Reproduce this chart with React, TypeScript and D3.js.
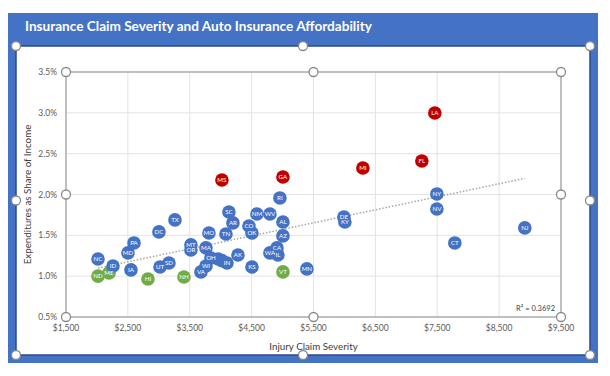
import React from "react";
import * as d3 from "d3";

const states = ["NC","ND","ME","ID","IA","MD","PA","DC","TX","HI","UT","SD","NH","MT","OR","MA","MO","TN","OH","WI","VA","IN","NE","WY","SC","MS","GA","RI","NM","WV","AR","AL","CO","OK","AZ","CA","WA","IL","AK","KS","VT","MN","LA","FL","MI","NY","NV","DE","KY","CT","NJ"];
const severity = [2017,2017,2195,2259,2550,2502,2599,3002,3261,2825,3019,3164,3406,3519,3519,3762,3810,4085,3843,3762,3681,4101,3960,4020,4133,4020,5006,4957,4586,4796,4198,5006,4456,4505,5006,4909,4796,4925,4279,4505,5006,5393,7461,7251,6298,7494,7494,5991,6007,7784,8915];
const share = [1.21,1.00,1.04,1.125,1.077,1.285,1.407,1.542,1.689,0.966,1.113,1.162,0.99,1.383,1.321,1.346,1.529,1.517,1.223,1.125,1.052,1.162,1.21,1.19,1.786,2.178,2.215,1.958,1.762,1.762,1.652,1.664,1.615,1.529,1.493,1.346,1.285,1.26,1.26,1.113,1.052,1.089,2.998,2.411,2.325,2.007,1.823,1.725,1.664,1.407,1.591];
const group = ["b","g","g","b","b","b","b","b","b","g","b","b","g","b","b","b","b","b","b","b","b","b","b","b","b","r","r","b","b","b","b","b","b","b","b","b","b","b","b","b","g","b","r","r","r","b","b","b","b","b","b"];
const xTicks = [1500,2500,3500,4500,5500,6500,7500,8500,9500];
const yTicks = [0.5,1.0,1.5,2.0,2.5,3.0,3.5];
const title = "Insurance Claim Severity and Auto Insurance Affordability";
const xTitle = "Injury Claim Severity";
const yTitle = "Expenditures as Share of Income";
const r2Label = "R² = 0.3692";

const colors: Record<string,string> = { b: "#4472C4", r: "#C00000", g: "#70AD47" };
const FONT = "Lato, 'Open Sans', sans-serif";

export default function App() {
  const W = 610, H = 376;
  const pl = 66, pr = 561, pt = 72, pb = 317;
  const x = d3.scaleLinear().domain([1500, 9500]).range([pl, pr]);
  const y = d3.scaleLinear().domain([0.5, 3.5]).range([pb, pt]);

  // linear regression
  const n = severity.length;
  const mx = d3.mean(severity)!;
  const my = d3.mean(share)!;
  let sxy = 0, sxx = 0;
  for (let i = 0; i < n; i++) { sxy += (severity[i]-mx)*(share[i]-my); sxx += (severity[i]-mx)**2; }
  const slope = sxy / sxx;
  const icpt = my - slope * mx;
  const x0 = d3.min(severity)!, x1 = d3.max(severity)!;
  const trend = d3.line<number>().x(v => x(v)).y(v => y(icpt + slope * v))([x0, x1]);

  const fmtX = (v: number) => "$" + d3.format(",")(v);
  const fmtY = (v: number) => v.toFixed(1) + "%";

  const handle = (cx: number, cy: number, k: string) => (
    <circle key={k} cx={cx} cy={cy} r={4.5} fill="#fff" stroke="#8a8a8a" strokeWidth={1.3} />
  );

  const cxA = 16, cyA = 46, cxB = 590, cyB = 355;

  return (
    <svg width={W} height={H} style={{ position: "absolute", left: 0, top: 0 }} fontFamily={FONT}>
      <rect x={0} y={0} width={W} height={H} fill="#fff" />
      <rect x={8} y={13} width={590} height={350} fill="#4472C4" />
      <text x={25} y={31} fill="#fff" fontWeight="bold" fontSize={13.6}>{title}</text>
      <rect x={cxA} y={cyA} width={cxB - cxA} height={cyB - cyA} fill="#fff" stroke="#2a4a8a" strokeWidth={1.5} />

      {/* gridlines */}
      {xTicks.map(t => <line key={"gx"+t} x1={x(t)} x2={x(t)} y1={pt} y2={pb} stroke="#e3e3e3" strokeWidth={1} />)}
      {yTicks.map(t => <line key={"gy"+t} x1={pl} x2={pr} y1={y(t)} y2={y(t)} stroke="#e3e3e3" strokeWidth={1} />)}

      {/* plot area frame */}
      <rect x={pl} y={pt} width={pr - pl} height={pb - pt} fill="none" stroke="#a6a6a6" strokeWidth={1.3} />

      {/* tick labels */}
      {xTicks.map(t => <text key={"tx"+t} x={x(t)} y={pb + 14} textAnchor="middle" fontSize={8.5} fill="#595959">{fmtX(t)}</text>)}
      {yTicks.map(t => <text key={"ty"+t} x={pl - 9} y={y(t) + 3} textAnchor="end" fontSize={8.5} fill="#595959">{fmtY(t)}</text>)}

      <text x={(pl + pr) / 2} y={350} textAnchor="middle" fontSize={9.8} fill="#404040">{xTitle}</text>
      <text transform={`translate(31,${(pt + pb) / 2}) rotate(-90)`} textAnchor="middle" fontSize={9.8} fill="#404040">{yTitle}</text>

      {/* trendline */}
      <path d={trend!} fill="none" stroke="#a6a6a6" strokeWidth={1.5} strokeDasharray="1.5,1.8" />

      {/* points */}
      {states.map((s, i) => (
        <circle key={"c"+s} cx={x(severity[i])} cy={y(share[i])} r={6.8} fill={colors[group[i]]} />
      ))}
      {states.map((s, i) => (
        (s === "NE" || s === "WY") ? null :
        <text key={"t"+s} x={x(severity[i])} y={y(share[i]) + 2.2} textAnchor="middle" fontSize={6.2} fill="#fff">{s}</text>
      ))}

      <text x={pr - 6} y={pb - 6} textAnchor="end" fontSize={7.5} fill="#404040">{r2Label}</text>

      {/* plot area handles */}
      {handle(pl, pt, "p1")}{handle((pl + pr) / 2, pt, "p2")}{handle(pr, pt, "p3")}
      {handle(pl, (pt + pb) / 2, "p4")}{handle(pr, (pt + pb) / 2, "p5")}
      {handle(pl, pb, "p6")}{handle((pl + pr) / 2, pb, "p7")}{handle(pr, pb, "p8")}
      {/* chart area handles */}
      {handle(cxA, cyA, "c1")}{handle((cxA + cxB) / 2, cyA, "c2")}{handle(cxB, cyA, "c3")}
      {handle(cxA, (cyA + cyB) / 2, "c4")}{handle(cxB, (cyA + cyB) / 2, "c5")}
      {handle(cxA, cyB, "c6")}{handle((cxA + cxB) / 2, cyB, "c7")}{handle(cxB, cyB, "c8")}
    </svg>
  );
}
